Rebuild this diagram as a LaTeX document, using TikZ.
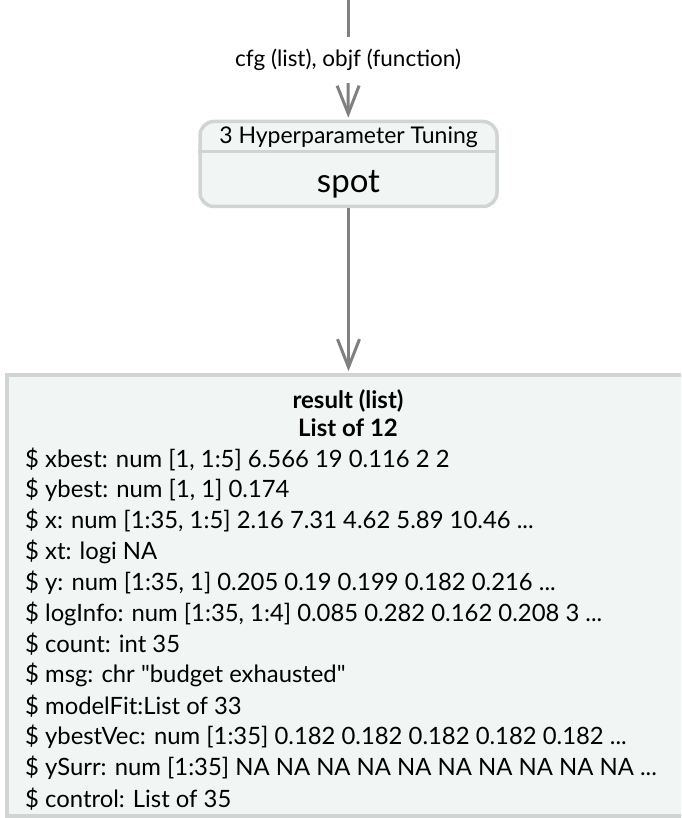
\documentclass[tikz,border=0pt]{standalone}
\usepackage{fontspec}
\setmainfont{Lato}[Ligatures=TeXOff]
\usetikzlibrary{arrows.meta}
\definecolor{boxfill}{RGB}{241,246,245}
\definecolor{boxedge}{RGB}{208,212,211}
\definecolor{flowgray}{RGB}{128,128,128}
\newcommand{\more}{...}
\begin{document}
\begin{tikzpicture}[x=1pt,y=1pt,
  flowline/.style={draw=flowgray, line width=3pt},
  flow/.style={flowline, -{Straight Barb[length=28pt,width=22pt]}, shorten >=2pt},
  lbl/.style={font=\fontsize{22.5}{26}\selectfont, minimum height=46pt, inner sep=0pt},
  procbox/.style={draw=boxedge, fill=boxfill, line width=3.5pt, rounded corners=14pt,
    minimum width=297pt, minimum height=85pt, inner sep=0pt},
  resbox/.style={draw=boxedge, fill=boxfill, line width=3.5pt, inner sep=0pt,
    minimum width=693pt, minimum height=441pt},
  restitle/.style={font=\bfseries\fontsize{24}{28}\selectfont, inner sep=0pt},
  resline/.style={font=\fontsize{23.85}{27}\selectfont, anchor=west, inner sep=0pt}]
  \pgfmathsetmacro{\midx}{348}
  \pgfmathsetmacro{\lineone}{-459}
  \pgfmathsetmacro{\linegap}{30.9}
  \useasboundingbox (0,0) rectangle (681,-818);
  \clip (0,0) rectangle (681,-818);
  % incoming edge
  \coordinate (src) at (\midx,0);
  \node[lbl] (inlbl) at (\midx,-60) {cfg (list), objf (function)};
  \draw[flowline] (src) -- (inlbl);
  % tuning step
  \node[procbox] (tune) at (348.5,-164) {};
  \draw[boxedge, line width=3.5pt] ([yshift=-32pt]tune.north west) -- ([yshift=-32pt]tune.north east);
  \node[font=\fontsize{23}{26}\selectfont, inner sep=0pt] (tunehead) at ([yshift=-17pt]tune.north) {3 Hyperparameter Tuning};
  \node[font=\fontsize{33}{36}\selectfont, inner sep=0pt] (tunebody) at ([yshift=24pt]tune.south) {spot};
  \draw[flow] (inlbl) -- (tune);
  % result
  \node[resbox] (result) at (353.5,-595.5) {};
  \draw[flow] (tune.south) -- (tune.south |- result.north);
  \node[restitle] (restit) at (\midx,-401) {result (list)};
  \node[restitle] (reslen) at (\midx,-428) {List of 12};
  \foreach \txt [count=\i] in {%
    {\$ xbest: num [1, 1:5] 6.566 19 0.116 2 2},
    {\$ ybest: num [1, 1] 0.174},
    {\$ x: num [1:35, 1:5] 2.16 7.31 4.62 5.89 10.46 \more},
    {\$ xt: logi NA},
    {\$ y: num [1:35, 1] 0.205 0.19 0.199 0.182 0.216 \more},
    {\$ logInfo: num [1:35, 1:4] 0.085 0.282 0.162 0.208 3 \more},
    {\$ count: int 35},
    {\$ msg: chr "budget exhausted"},
    {\$ modelFit:List of 33},
    {\$ ybestVec: num [1:35] 0.182 0.182 0.182 0.182 0.182 \more},
    {\$ ySurr: num [1:35] NA NA NA NA NA NA NA NA NA NA \more},
    {\$ control: List of 35}}
    \node[resline] (line\i) at (25,\lineone-\linegap*\i+\linegap) {\txt};
\end{tikzpicture}
\end{document}
